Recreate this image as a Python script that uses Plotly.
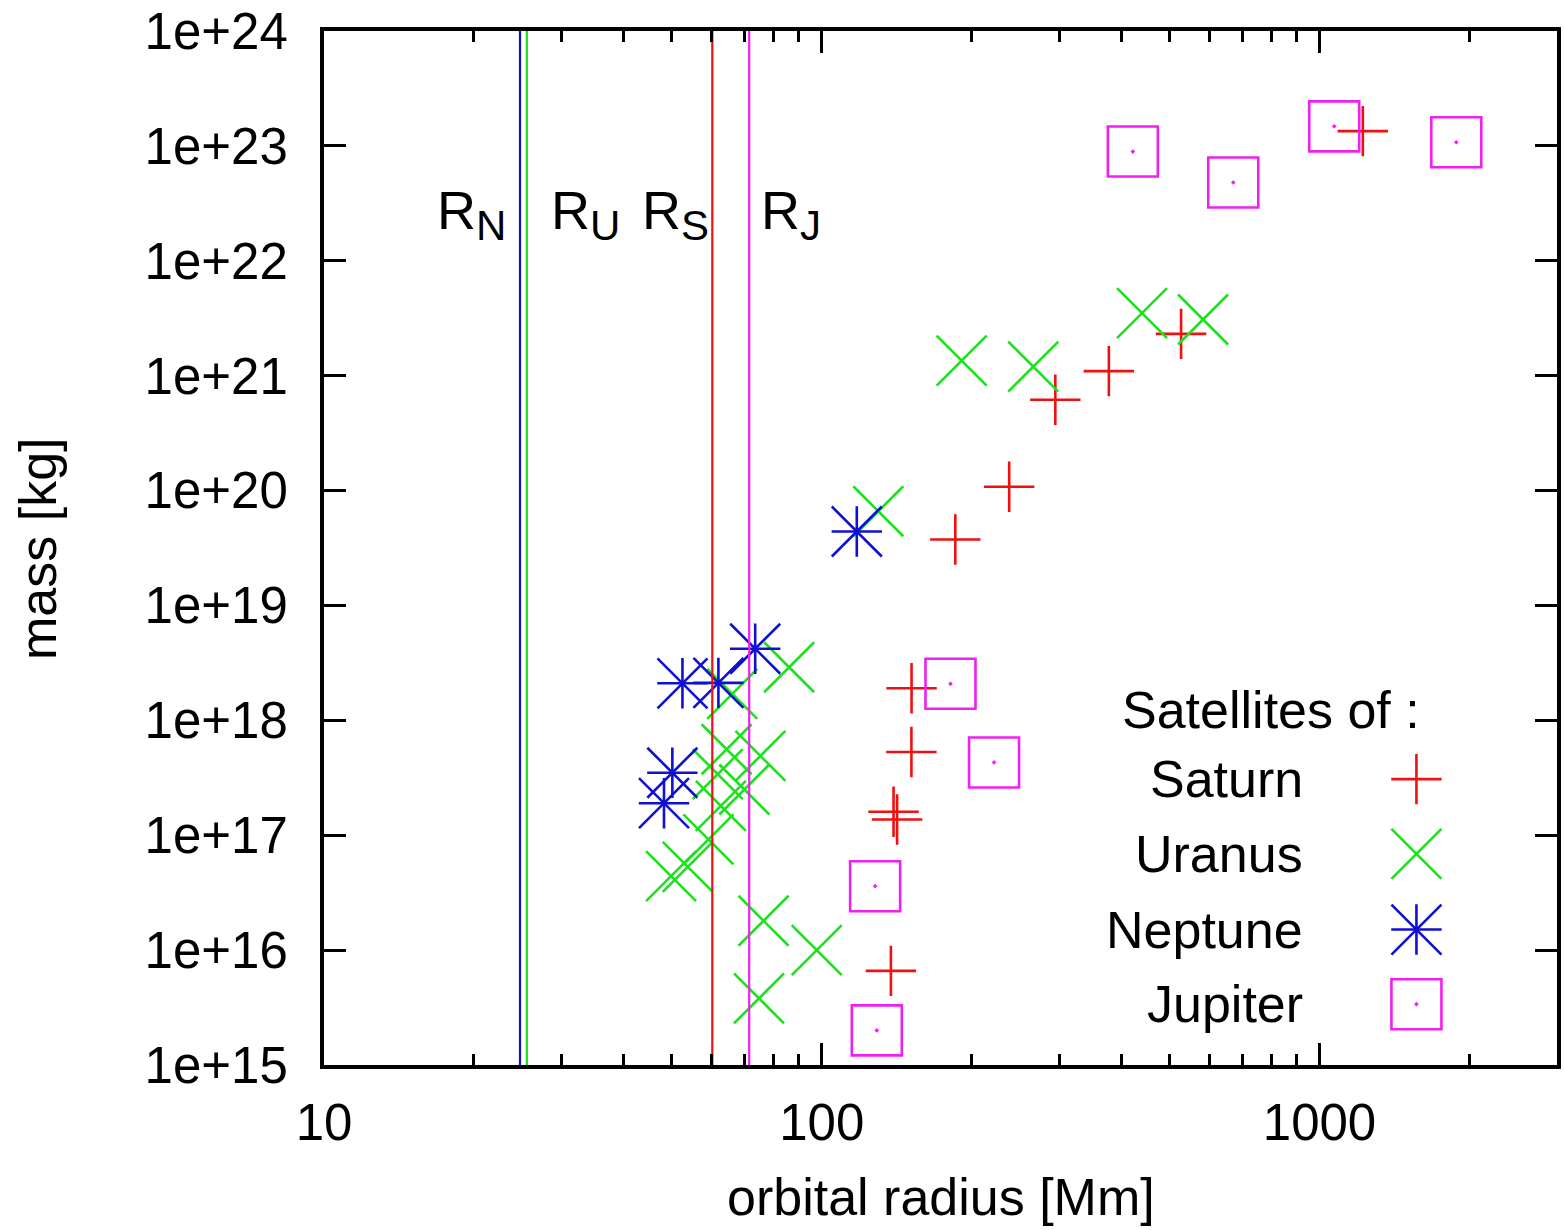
import math
import plotly.graph_objects as go

# ---------------- data ----------------
saturn_r = [1221.9, 527.1, 377.4, 294.6, 238.0, 185.5, 151.5, 151.4, 141.7, 139.4, 137.7]
saturn_m = [1.345e23, 2.31e21, 1.095e21, 6.17e20, 1.08e20, 3.75e19, 1.9e18, 5.3e17, 1.37e17, 1.6e17, 6.6e15]

uranus_r = [440.0, 583.5, 266.0, 191.0, 129.9, 49.8, 53.8, 59.2, 61.8, 62.7, 64.4, 66.1, 69.9, 74.8, 75.3, 76.4, 86.0, 97.7]
uranus_m = [3.5e21, 3.08e21, 1.2e21, 1.35e21, 6.6e19, 4.4e16, 5.3e16, 9.2e16, 3.4e17, 1.8e17, 5.6e17, 1.7e18,
            2.5e17, 3.8e15, 4.9e17, 1.8e16, 2.9e18, 1.0e16]

neptune_r = [48.2, 50.1, 52.5, 62.0, 73.5, 117.6]
neptune_m = [1.9e17, 3.5e17, 2.1e18, 2.12e18, 4.2e18, 4.4e19]

jupiter_r = [128.0, 129.0, 181.4, 221.9, 421.7, 671.0, 1070.4, 1882.7]
jupiter_m = [3.6e16, 2.0e15, 2.08e18, 4.3e17, 8.93e22, 4.8e22, 1.48e23, 1.076e23]

planet_labels = ["N", "U", "S", "J"]
planet_radius = [24.76, 25.56, 60.27, 71.49]

legend_names = ["Saturn", "Uranus", "Neptune", "Jupiter"]
x_ticks = [10, 100, 1000]
x_ticktext = ["10", "100", "1000"]
x_minor = [20, 30, 40, 50, 60, 70, 80, 90, 200, 300, 400, 500, 600, 700, 800, 900, 2000]
y_ticks = [10.0 ** e for e in range(15, 25)]
y_ticktext = ["1e+%d" % e for e in range(15, 25)]

# ---------------- styles ----------------
RED = "#f01010"
GREEN = "#1fe01f"
BLUE = "#1010d0"
MAGENTA = "#f020f0"
FONT = "Liberation Sans, Arial, Helvetica, sans-serif"
MW = 2.6

fig = go.Figure()

def add_series(xs, ys, color, kind, xa="x", ya="y"):
    if kind in ("plus", "star"):
        fig.add_trace(go.Scatter(x=xs, y=ys, mode="markers", xaxis=xa, yaxis=ya,
                                 marker=dict(symbol="cross-thin-open", size=36, color=color,
                                             line=dict(color=color, width=MW)),
                                 hoverinfo="skip", showlegend=False))
    if kind in ("x", "star"):
        fig.add_trace(go.Scatter(x=xs, y=ys, mode="markers", xaxis=xa, yaxis=ya,
                                 marker=dict(symbol="x-thin-open", size=50, color=color,
                                             line=dict(color=color, width=MW)),
                                 hoverinfo="skip", showlegend=False))
    if kind == "square":
        fig.add_trace(go.Scatter(x=xs, y=ys, mode="markers", xaxis=xa, yaxis=ya,
                                 marker=dict(symbol="square-open-dot", size=50, color=color,
                                             line=dict(color=color, width=MW)),
                                 hoverinfo="skip", showlegend=False))

add_series(saturn_r, saturn_m, RED, "plus")
add_series(uranus_r, uranus_m, GREEN, "x")
add_series(neptune_r, neptune_m, BLUE, "star")
add_series(jupiter_r, jupiter_m, MAGENTA, "square")

# vertical planet-radius lines
line_colors = [BLUE, GREEN, RED, MAGENTA]
for r, c in zip(planet_radius, line_colors):
    fig.add_trace(go.Scatter(x=[r, r], y=[1e14, 1e25], mode="lines",
                             line=dict(color=c, width=2.2), hoverinfo="skip", showlegend=False))

# labels R_N, R_U, R_S, R_J
label_anchor = ["right", "left", "right", "left"]
label_shift = [-12, 22, -1, 10]
for lab, r, anc, sh in zip(planet_labels, planet_radius, label_anchor, label_shift):
    fig.add_annotation(x=math.log10(r), y=22.40, xref="x", yref="y",
                       text="R<sub><span style='font-size:42px'>%s</span></sub>" % lab,
                       showarrow=False, xanchor=anc, yanchor="middle", xshift=sh,
                       font=dict(family=FONT, size=54, color="black"))

# ---------------- manual key ----------------
key_sym_x = 0.886
key_rows_y = [0.2765, 0.2042, 0.131, 0.0588]
key_text_x = 0.796
key_colors = [RED, GREEN, BLUE, MAGENTA]
key_kinds = ["plus", "x", "star", "square"]
for yv, col, kd in zip(key_rows_y, key_colors, key_kinds):
    add_series([key_sym_x], [yv], col, kd, xa="x2", ya="y2")
for name, yv in zip(legend_names, key_rows_y):
    fig.add_annotation(x=key_text_x, y=yv, xref="paper", yref="paper", text=name,
                       showarrow=False, xanchor="right", yanchor="middle",
                       font=dict(family=FONT, size=52, color="black"))
fig.add_annotation(x=0.768, y=0.343, xref="paper", yref="paper", text="Satellites of :",
                   showarrow=False, xanchor="center", yanchor="middle",
                   font=dict(family=FONT, size=52, color="black"))

# axis titles
fig.add_annotation(x=0.5, y=-0.128, xref="paper", yref="paper", text="orbital radius [Mm]",
                   showarrow=False, xanchor="center", yanchor="middle",
                   font=dict(family=FONT, size=52, color="black"))
fig.add_annotation(x=-0.232, y=0.5, xref="paper", yref="paper", text="mass [kg]",
                   showarrow=False, xanchor="center", yanchor="middle", textangle=-90,
                   font=dict(family=FONT, size=52, color="black"))

axis_common = dict(showline=True, linewidth=4, linecolor="black", mirror="allticks",
                   ticks="inside", ticklen=22, tickwidth=3, tickcolor="black",
                   showgrid=False, zeroline=False, automargin=False,
                   tickfont=dict(family=FONT, size=51, color="black"))

fig.update_layout(
    width=1564, height=1230,
    margin=dict(l=324, r=7, t=31, b=165),
    paper_bgcolor="white", plot_bgcolor="white",
    showlegend=False,
    xaxis=dict(type="log", range=[1, math.log10(3000)], tickmode="array",
               tickvals=x_ticks, ticktext=x_ticktext, ticklabelstandoff=10,
               minor=dict(tickmode="array", tickvals=x_minor, ticks="inside", ticklen=11,
                          tickwidth=3, tickcolor="black", showgrid=False),
               **axis_common),
    yaxis=dict(type="log", range=[15, 24], tickmode="array",
               tickvals=y_ticks, ticktext=y_ticktext, ticklabelstandoff=22,
               **axis_common),
    xaxis2=dict(overlaying="x", range=[0, 1], visible=False, anchor="y2", automargin=False),
    yaxis2=dict(overlaying="y", range=[0, 1], visible=False, anchor="x2", automargin=False),
)

fig.write_html("out.html", config={"displayModeBar": False},
               post_script="document.body.style.margin='0px';document.body.style.overflow='hidden';")
